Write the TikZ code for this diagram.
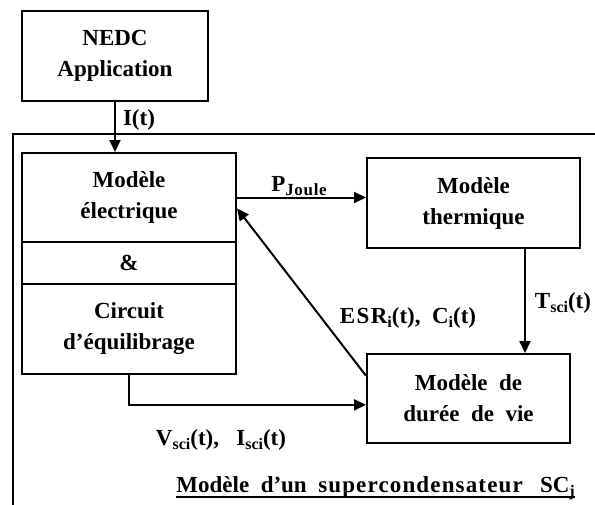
\documentclass[tikz,border=0pt]{standalone}
\usepackage{fontspec}
\setmainfont{Liberation Serif}
\usetikzlibrary{arrows.meta,calc}
\newcommand{\sbs}[1]{\raisebox{-4pt}{\fontsize{16}{16}\selectfont #1}}
\newcommand{\sbsw}[1]{\raisebox{-4pt}{\fontsize{17}{17}\selectfont\addfontfeature{LetterSpace=4}#1}}
\begin{document}
\begin{tikzpicture}[x=1pt,y=-1pt,
  font=\fontsize{23}{31}\selectfont\bfseries,
  box/.style={draw, line width=2pt, inner sep=0pt, align=center},
  arr/.style={line width=2pt, -{Triangle[length=12pt,width=11pt]}},
  lbl/.style={inner sep=0pt}]
\useasboundingbox (0,0) rectangle (595,504);
% outer frame (cropped at right and bottom)
\node[box, anchor=north west, minimum width=620, minimum height=420] (frame) at (12,133) {};
% boxes
\node[box, minimum width=186, minimum height=90] (nedc) at (115,56) {NEDC\\Application};
\node[box, minimum width=214, minimum height=89] (me) at (129,197.5) {Modèle\\électrique};
\node[box, minimum width=214, minimum height=42] (amp) at (129,263) {\&};
\node[box, minimum width=214, minimum height=90] (ce) at (129,329) {Circuit\\d’équilibrage};
\node[box, minimum width=213, minimum height=90] (therm) at (473.5,203) {Modèle\\thermique};
\node[box, minimum width=203, minimum height=89] (duree) at (468.5,398.5) {Modèle\ \ de\\durée\ \ de\ \ vie};
\coordinate (tx) at (525,0);
% connectors
\draw[arr] (nedc.south) -- (nedc.south |- me.north);
\draw[arr] (me.east) -- (me.east -| therm.west);
\draw[arr] (therm.south -| tx) -- (duree.north -| tx);
\draw[arr] ($(duree.north west)!0.25!(duree.south west)$) -- ($(me.north east)!0.62!(me.south east)$);
\draw[arr] (ce.south) |- ($(duree.north west)!0.57!(duree.south west)$);
% labels
\node[lbl] (lI) at (139,120) {I(t)};
\node[lbl] (lP) at (299,186) {P\sbsw{Joule}};
\node[lbl] (lT) at (563,303) {T\sbs{sci}(t)};
\node[lbl] (lE) at (408,318) {{\addfontfeature{LetterSpace=6}ESR}\sbs{i}(t), \ C\sbs{i}(t)};
\node[lbl] (lV) at (221,440) {V\sbs{sci}(t), \ \ I\sbs{sci}(t)};
\node[lbl, anchor=base east] (title) at (575,492) {Modèle\ \ d’un\ \ {\addfontfeature{LetterSpace=5}supercondensateur}\ \ \ SC\sbs{j}};
\draw[line width=1.5pt] ($(title.base west)+(0,5)$) -- ($(title.base east)+(0,5)$);
\end{tikzpicture}
\end{document}
